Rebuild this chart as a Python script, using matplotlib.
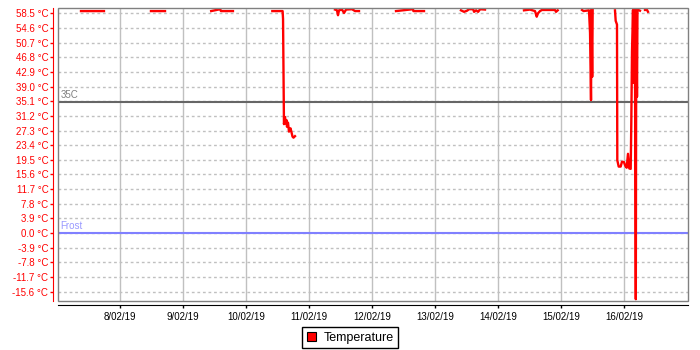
import numpy as np
import pandas as pd
import matplotlib
matplotlib.use("Agg")
import matplotlib.pyplot as plt
from matplotlib.patches import Patch, Rectangle
from matplotlib.transforms import blended_transform_factory

plt.rcParams['font.family'] = ['Liberation Sans', 'DejaVu Sans']

run1_t = ["2019-02-07 09:02", "2019-02-07 13:00", "2019-02-07 17:47"]
run1_v = [59.1, 59.1, 59.1]

run2_t = ["2019-02-08 11:41", "2019-02-08 17:02"]
run2_v = [59.1, 59.1]

run3_t = ["2019-02-09 10:38", "2019-02-09 14:04", "2019-02-09 14:20", "2019-02-09 18:55"]
run3_v = [59.1, 59.6, 59.1, 59.1]

run4_t = ["2019-02-10 09:55", "2019-02-10 13:50", "2019-02-10 14:00", "2019-02-10 14:21",
          "2019-02-10 14:44", "2019-02-10 15:00", "2019-02-10 15:18", "2019-02-10 15:30",
          "2019-02-10 15:53", "2019-02-10 16:16", "2019-02-10 16:50", "2019-02-10 17:10",
          "2019-02-10 17:36", "2019-02-10 17:59", "2019-02-10 18:33"]
run4_v = [59.1, 59.1, 57.0, 29.0, 30.9, 29.2, 30.1, 28.3, 29.4, 27.0, 27.9, 27.0,
          25.7, 25.4, 25.8]

run5_t = ["2019-02-11 09:47", "2019-02-11 10:33", "2019-02-11 10:56", "2019-02-11 11:19",
          "2019-02-11 12:28", "2019-02-11 13:14", "2019-02-11 14:00", "2019-02-11 16:17",
          "2019-02-11 17:26", "2019-02-11 18:56"]
run5_v = [59.5, 59.3, 58.0, 59.3, 59.5, 58.6, 59.5, 59.6, 59.1, 59.1]

run6_t = ["2019-02-12 09:02", "2019-02-12 15:30", "2019-02-12 15:40", "2019-02-12 19:42"]
run6_v = [59.1, 59.6, 59.1, 59.1]

run7_t = ["2019-02-13 09:47", "2019-02-13 10:57", "2019-02-13 12:06", "2019-02-13 12:52",
          "2019-02-13 14:24", "2019-02-13 14:47", "2019-02-13 15:33", "2019-02-13 16:19",
          "2019-02-13 17:05", "2019-02-13 18:56"]
run7_v = [59.3, 58.9, 59.2, 59.6, 59.6, 58.9, 59.3, 58.9, 59.6, 59.5]

run8_t = ["2019-02-14 09:47", "2019-02-14 12:04", "2019-02-14 13:59", "2019-02-14 14:38",
          "2019-02-14 15:07", "2019-02-14 15:53", "2019-02-14 16:39", "2019-02-14 21:36",
          "2019-02-14 21:59", "2019-02-14 22:38"]
run8_v = [59.3, 59.5, 59.1, 57.6, 58.5, 59.1, 59.4, 59.4, 58.9, 59.3]

run9_t = ["2019-02-15 07:53", "2019-02-15 08:30", "2019-02-15 10:33", "2019-02-15 10:57",
          "2019-02-15 11:19", "2019-02-15 11:30", "2019-02-15 11:46", "2019-02-15 11:57"]
run9_v = [59.4, 59.1, 59.3, 53.3, 35.4, 59.5, 41.6, 59.5]

run10_t = ["2019-02-15 20:27", "2019-02-15 20:43", "2019-02-15 21:13", "2019-02-15 21:20",
           "2019-02-15 21:52", "2019-02-15 22:37", "2019-02-15 23:07", "2019-02-15 23:52",
           "2019-02-16 00:23", "2019-02-16 00:55", "2019-02-16 01:24", "2019-02-16 01:54",
           "2019-02-16 02:26", "2019-02-16 02:33", "2019-02-16 02:40", "2019-02-16 02:56",
           "2019-02-16 03:19", "2019-02-16 03:33", "2019-02-16 03:46", "2019-02-16 04:00",
           "2019-02-16 04:23", "2019-02-16 04:34", "2019-02-16 04:50", "2019-02-16 05:01",
           "2019-02-16 05:58"]
run10_v = [59.3, 56.5, 55.5, 19.4, 17.7, 17.7, 19.0, 18.9, 17.9, 17.4, 21.1, 17.2,
           17.1, 23.2, 29.4, 48.3, 59.4, 40.0, 59.5, 59.3, -17.6, 59.4, 36.3, 59.5,
           59.2]

run11_t = ["2019-02-16 07:53", "2019-02-16 08:39", "2019-02-16 09:02"]
run11_v = [59.4, 59.4, 58.9]

runs = [(run1_t, run1_v), (run2_t, run2_v), (run3_t, run3_v), (run4_t, run4_v),
        (run5_t, run5_v), (run6_t, run6_v), (run7_t, run7_v), (run8_t, run8_v),
        (run9_t, run9_v), (run10_t, run10_v), (run11_t, run11_v)]

limits = {"35C": 35.0, "Frost": 0.0}
day_ticks = pd.date_range("2019-02-08", "2019-02-16", freq="D")
y_ticks = np.round(np.arange(-4, 16) * 3.9, 1)

# join the runs with NaN gaps so they plot as one series
times, temps = [], []
for t, v in runs:
    times += list(pd.to_datetime(t)) + [pd.NaT]
    temps += v + [np.nan]
times = pd.Series(times)
temps = np.array(temps, dtype=float)

fig = plt.figure(figsize=(7, 3.5), dpi=100)
ax = fig.add_axes([0.0824, 0.1391, 0.9009, 0.8371])

ax.set_xlim(pd.Timestamp("2019-02-07 00:09"), pd.Timestamp("2019-02-17 00:23"))
ax.set_ylim(-18.16, 59.83)

# grid
ax.set_xticks(day_ticks)
ax.set_xticklabels([f"{d.day}/{d:%m/%y}" for d in day_ticks])
ax.set_yticks(y_ticks)
ax.set_yticklabels([f"{v:.1f} °C" for v in y_ticks])
ax.grid(axis='x', color='#c0c0c0', lw=1.0, ls='-')
ax.grid(axis='y', color='#c0c0c0', lw=1.0, ls=(0, (2, 2)))
ax.set_axisbelow(True)

# limit lines
tr = blended_transform_factory(ax.transAxes, ax.transData)
ax.axhline(limits["35C"], color='#666666', lw=1.5, zorder=2)
ax.text(0.004, limits["35C"] + 0.5, "35C", transform=tr, color='#808080',
        fontsize=7, va='bottom', ha='left')
ax.axhline(limits["Frost"], color='#8080ff', lw=1.5, zorder=2)
ax.text(0.004, limits["Frost"] + 0.5, "Frost", transform=tr, color='#9999ff',
        fontsize=7, va='bottom', ha='left')

ax.plot(times, temps, color='#ff0000', lw=1.7, zorder=3)

# frame and offset axes
for s in ['top', 'right']:
    ax.spines[s].set_visible(False)
ax.add_patch(Rectangle((0, 0), 1, 1, transform=ax.transAxes, fill=False,
                       edgecolor='#808080', lw=1.0, clip_on=False, zorder=4))
ax.spines['left'].set_position(('outward', 3.2))
ax.spines['left'].set_color('#ff0000')
ax.spines['bottom'].set_position(('outward', 3))
ax.spines['bottom'].set_color('#000000')
ax.tick_params(axis='y', colors='#ff0000', labelcolor='#ff0000', length=2,
               width=1, pad=1.5, labelsize=7)
ax.tick_params(axis='x', colors='#000000', length=2, width=1, pad=3, labelsize=7)

handle = Patch(facecolor='#ff0000', edgecolor='#000000', lw=0.8)
fig.legend([handle], ["Temperature"], loc='lower center',
           bbox_to_anchor=(0.5, 0.006), fontsize=9, frameon=True, fancybox=False,
           edgecolor='#000000', framealpha=1, handlelength=0.75, handleheight=0.75,
           handletextpad=0.6, borderpad=0.35, borderaxespad=0)

fig.savefig("out.png", dpi=100)
